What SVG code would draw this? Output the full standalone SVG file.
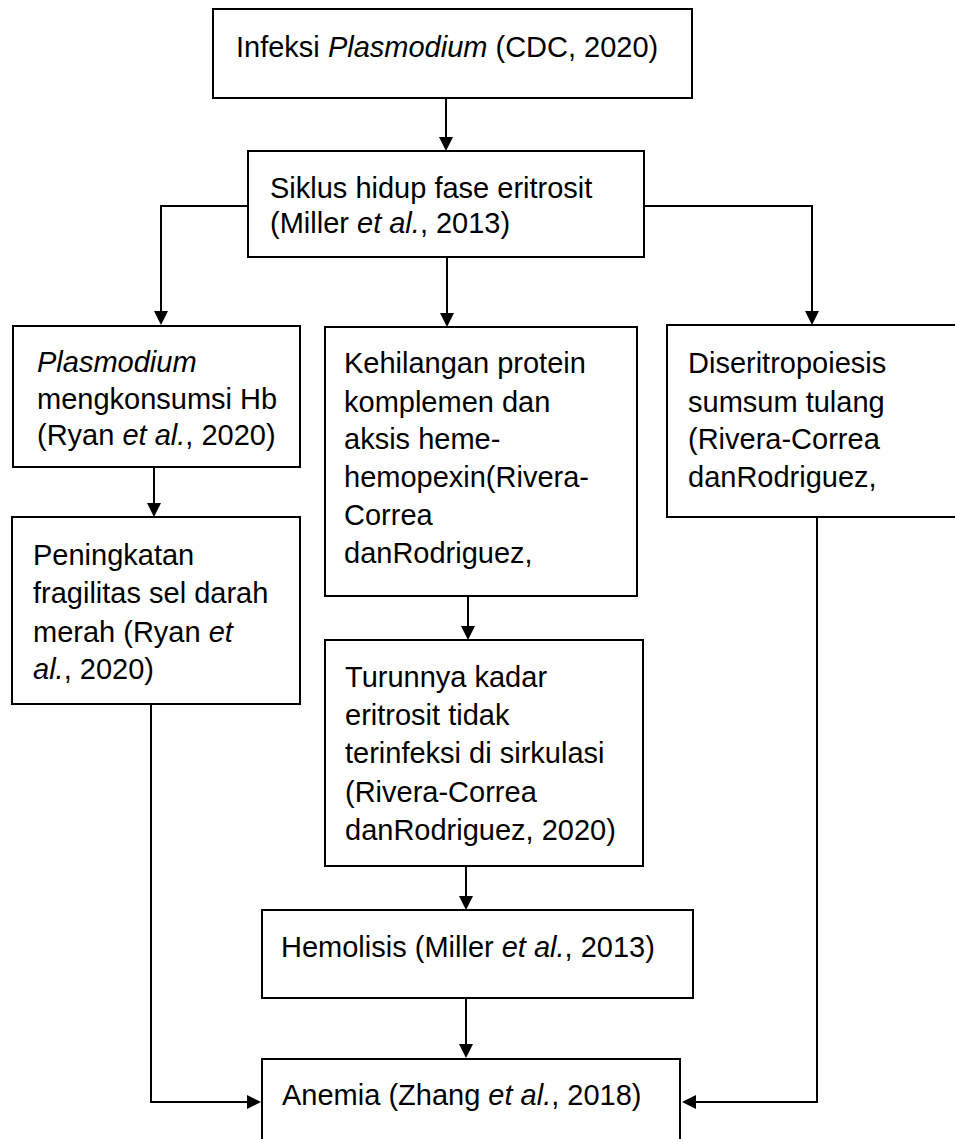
<svg xmlns="http://www.w3.org/2000/svg" width="955" height="1139" viewBox="0 0 955 1139">
<style>
.box{fill:#fff;stroke:#000;stroke-width:2}
.t{font-family:"Liberation Sans",Arial,sans-serif;font-size:29px;fill:#000}
.i{font-style:italic}
.c{fill:none;stroke:#000;stroke-width:2}
</style>
<defs>
<marker id="ah" markerWidth="14" markerHeight="14" refX="2" refY="7" orient="auto" markerUnits="userSpaceOnUse"><path d="M0,0 L14,7 L0,14 z" fill="#000"/></marker>
</defs>
<rect width="955" height="1139" fill="#fff"/>
<g id="connectors">
<path class="c" d="M446,98 V139" marker-end="url(#ah)"/>
<path class="c" d="M248,206 H161 V313" marker-end="url(#ah)"/>
<path class="c" d="M644,206 H812 V313" marker-end="url(#ah)"/>
<path class="c" d="M447,257 V315" marker-end="url(#ah)"/>
<path class="c" d="M154,467 V505" marker-end="url(#ah)"/>
<path class="c" d="M468,596 V628" marker-end="url(#ah)"/>
<path class="c" d="M466,866 V898" marker-end="url(#ah)"/>
<path class="c" d="M466,998 V1046" marker-end="url(#ah)"/>
<path class="c" d="M151,704 V1102 H249" marker-end="url(#ah)"/>
<path class="c" d="M817,517 V1102 H694" marker-end="url(#ah)"/>
</g>
<g id="n1">
<rect class="box" x="213" y="9" width="479" height="89"/>
<text class="t" x="236" y="57">Infeksi <tspan class="i">Plasmodium</tspan> (CDC, 2020)</text>
</g>
<g id="n2">
<rect class="box" x="248" y="151" width="396" height="106"/>
<text class="t" x="270" y="198">Siklus hidup fase eritrosit</text>
<text class="t" x="270" y="233">(Miller <tspan class="i">et al.</tspan>, 2013)</text>
</g>
<g id="n3">
<rect class="box" x="13" y="326" width="287" height="141"/>
<text class="t i" x="37" y="372">Plasmodium</text>
<text class="t" x="37" y="409">mengkonsumsi Hb</text>
<text class="t" x="37" y="445">(Ryan <tspan class="i">et al.</tspan>, 2020)</text>
</g>
<g id="n4">
<rect class="box" x="12" y="517" width="288" height="187"/>
<text class="t" x="33" y="565">Peningkatan</text>
<text class="t" x="33" y="603">fragilitas sel darah</text>
<text class="t" x="33" y="642">merah (Ryan <tspan class="i">et</tspan></text>
<text class="t" x="33" y="679"><tspan class="i">al.</tspan>, 2020)</text>
</g>
<g id="n5">
<rect class="box" x="325" y="327" width="312" height="269"/>
<text class="t" x="344" y="373">Kehilangan protein</text>
<text class="t" x="344" y="412">komplemen dan</text>
<text class="t" x="344" y="449">aksis heme-</text>
<text class="t" x="344" y="487">hemopexin(Rivera-</text>
<text class="t" x="344" y="525">Correa</text>
<text class="t" x="344" y="563">danRodriguez,</text>
</g>
<g id="n6">
<rect class="box" x="667" y="325" width="310" height="192"/>
<text class="t" x="688" y="373">Diseritropoiesis</text>
<text class="t" x="688" y="412">sumsum tulang</text>
<text class="t" x="688" y="449">(Rivera-Correa</text>
<text class="t" x="688" y="487">danRodriguez,</text>
</g>
<g id="n7">
<rect class="box" x="325" y="640" width="318" height="226"/>
<text class="t" x="345" y="687">Turunnya kadar</text>
<text class="t" x="345" y="725">eritrosit tidak</text>
<text class="t" x="345" y="763">terinfeksi di sirkulasi</text>
<text class="t" x="345" y="802">(Rivera-Correa</text>
<text class="t" x="345" y="840">danRodriguez, 2020)</text>
</g>
<g id="n8">
<rect class="box" x="262" y="910" width="431" height="88"/>
<text class="t" x="281" y="957">Hemolisis (Miller <tspan class="i">et al.</tspan>, 2013)</text>
</g>
<g id="n9">
<rect class="box" x="262" y="1059" width="418" height="100"/>
<text class="t" x="282" y="1105">Anemia (Zhang <tspan class="i">et al.</tspan>, 2018)</text>
</g>
</svg>
